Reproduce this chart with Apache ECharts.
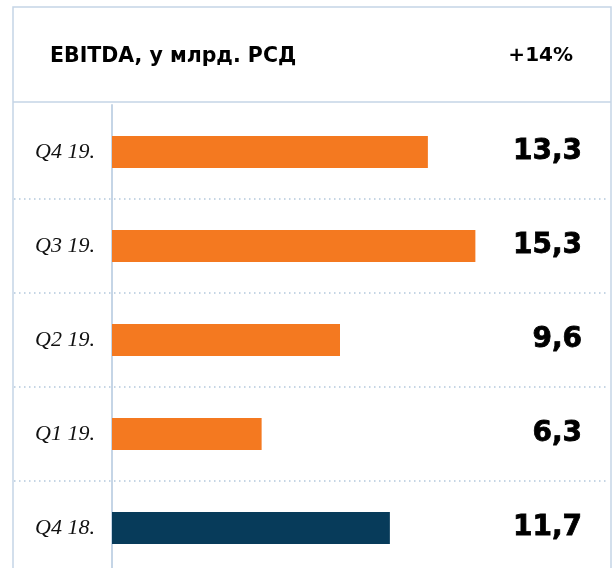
<!DOCTYPE html>
<html>
<head>
<meta charset="utf-8">
<script src="https://cdn.jsdelivr.net/npm/echarts@6/dist/echarts.min.js"></script>
<style>
  html, body { margin: 0; padding: 0; background: #fff; }
  #chart { width: 616px; height: 568px; }
</style>
</head>
<body>
<div id="chart"></div>
<script type="text/javascript">
    // данные
    var categories = ['Q4 19.', 'Q3 19.', 'Q2 19.', 'Q1 19.', 'Q4 18.'];
    var values = [13.3, 15.3, 9.6, 6.3, 11.7];
    var barColors = ['#f47920', '#f47920', '#f47920', '#f47920', '#073b5a'];
    var titleText = 'EBITDA, у млрд. РСД';
    var changeText = '+14%';

    var borderColor = '#c5d5e6';

    var chart = echarts.init(document.getElementById('chart'));

    var option = {
        animation: false,
        grid: [
            // фон: пунктирные разделители по всей ширине
            { left: 14, top: 105, width: 594, height: 470, outerBoundsMode: 'none' },
            // столбцы
            { left: 112, top: 105, width: 475, height: 470, outerBoundsMode: 'none' }
        ],
        xAxis: [
            { gridIndex: 0, type: 'value', min: 0, max: 1, show: false },
            { gridIndex: 1, type: 'value', min: 0, max: 20, show: false }
        ],
        yAxis: [
            {
                gridIndex: 0,
                type: 'category',
                inverse: true,
                data: categories,
                axisLine: { show: false },
                axisTick: { show: false },
                axisLabel: { show: false },
                splitLine: {
                    show: true,
                    showMinLine: false,
                    showMaxLine: false,
                    lineStyle: { color: '#b3c7dc', width: 1.5, type: [1.5, 3.5] }
                }
            },
            {
                gridIndex: 0,
                type: 'category',
                position: 'right',
                inverse: true,
                data: categories,
                axisLine: { show: false },
                axisTick: { show: false },
                splitLine: { show: false },
                axisLabel: {
                    inside: true,
                    margin: 26,
                    padding: [6, 0, 0, 0],
                    color: '#000',
                    fontFamily: 'DejaVu Sans',
                    fontWeight: 'bold',
                    fontSize: 28,
                    textBorderColor: '#000',
                    textBorderWidth: 0.8,
                    formatter: function (v, i) {
                        return String(values[i]).replace('.', ',');
                    }
                }
            },
            {
                gridIndex: 1,
                type: 'category',
                inverse: true,
                data: categories,
                axisLine: { show: true, lineStyle: { color: borderColor, width: 2 } },
                axisTick: { show: false },
                splitLine: { show: false },
                axisLabel: {
                    margin: 17,
                    padding: [4, 0, 0, 0],
                    color: '#111',
                    fontFamily: 'Liberation Serif',
                    fontStyle: 'italic',
                    fontSize: 22
                }
            }
        ],
        series: [
            {
                type: 'bar',
                xAxisIndex: 1,
                yAxisIndex: 2,
                barWidth: 32,
                data: values.map(function (v, i) {
                    return { value: v, itemStyle: { color: barColors[i] } };
                })
            }
        ],
        graphic: [
            {
                type: 'rect',
                shape: { x: 13, y: 7, width: 598, height: 600 },
                style: { fill: 'none', stroke: borderColor, lineWidth: 1.5 },
                z: 10
            },
            {
                type: 'line',
                shape: { x1: 13, y1: 102, x2: 611, y2: 102 },
                style: { stroke: borderColor, lineWidth: 1.5 },
                z: 10
            },
            {
                type: 'text',
                left: 50,
                top: 46,
                style: {
                    text: titleText,
                    fill: '#000',
                    font: 'bold 20.5px "DejaVu Sans"'
                }
            },
            {
                type: 'text',
                right: 43,
                top: 46,
                style: {
                    text: changeText,
                    fill: '#000',
                    font: 'bold 20px "DejaVu Sans"'
                }
            }
        ]
    };

    chart.setOption(option);
</script>
</body>
</html>
